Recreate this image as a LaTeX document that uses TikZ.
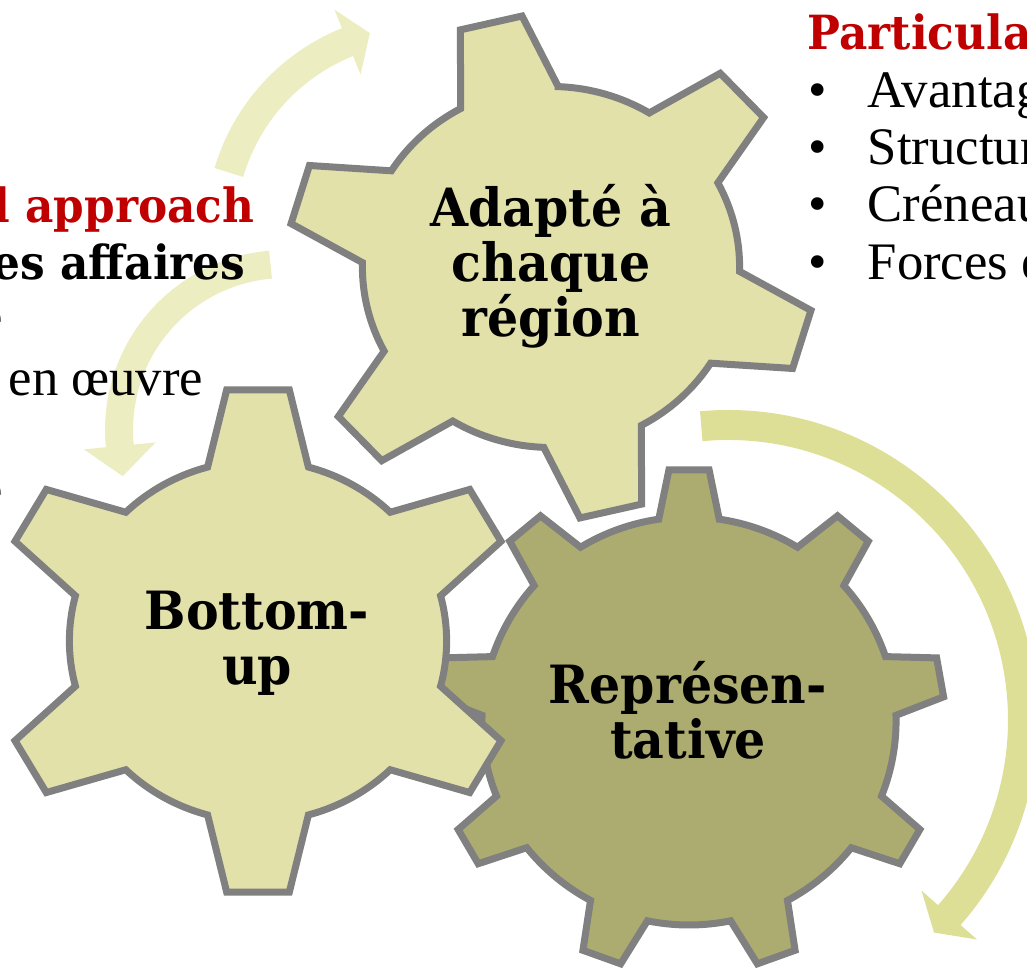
\documentclass[tikz,border=0pt]{standalone}
\usepackage{fontspec}
\setmainfont{Liberation Serif}
\newfontfamily\gearfont[FakeStretch=0.93]{DejaVu Serif}
\usepackage{tikz}

\definecolor{gearlight}{RGB}{226,225,170}
\definecolor{geardark}{RGB}{173,172,112}
\definecolor{gearline}{RGB}{128,128,128}
\definecolor{arrowpale}{RGB}{237,237,194}
\definecolor{arrowlime}{RGB}{222,223,150}
\definecolor{headred}{RGB}{192,0,0}

\tikzset{
  gearbody/.style={draw=gearline, line width=0.7mm, line join=miter},
  bendarrow/.style={line width=3mm},
  gearlabel/.style={font=\gearfont\bfseries\fontsize{15}{15.65}\selectfont, align=center, inner sep=0pt, anchor=base},
  headline/.style={font=\gearfont\bfseries\fontsize{13.4}{14}\selectfont, inner sep=0pt},
  bodyline/.style={font=\fontsize{15}{16}\selectfont, inner sep=0pt}
}

% gear: centre, teeth, phase, root r, tip r, half base, half tip, fill, xscale
\newcommand{\gear}[9]{%
  \begin{scope}[shift={#1}, y=0.1mm, xscale=#9]
    \draw[gearbody, fill=#8] ({#3-#6}:#4)
      \foreach \k in {1,...,#2}{
        -- ({#3+(\k-1)*360/#2-#7}:#5) -- ({#3+(\k-1)*360/#2+#7}:#5)
        -- ({#3+(\k-1)*360/#2+#6}:#4)
        arc[start angle={#3+(\k-1)*360/#2+#6}, end angle={#3+\k*360/#2-#6}, radius=#4]
      } -- cycle;
  \end{scope}}

\begin{document}
\begin{tikzpicture}[x=0.1mm, y=-0.1mm]
  \useasboundingbox (0,0) rectangle (1027,970);

  % circular arrows
  \begin{scope}[shift={(423,230)}, y=0.1mm]
    \draw[bendarrow, arrowpale] (163.5:202.5) arc[start angle=163.5, end angle=111.2, radius=202.5];
    \fill[arrowpale] (111.9:167.5) -- (105.1:203.9) -- (111.9:237.5) -- cycle;
  \end{scope}
  \begin{scope}[shift={(285,430)}, y=0.1mm]
    \draw[bendarrow, arrowpale, line width=2.8mm] (95:166) arc[start angle=95, end angle=186.3, radius=166];
    \fill[arrowpale] (185.5:130) -- (195.9:168.7) -- (185.5:202) -- cycle;
  \end{scope}
  \begin{scope}[shift={(728,720)}, y=0.1mm]
    \draw[bendarrow, arrowlime] (95.2:295) arc[start angle=95.2, end angle=-42, radius=295];
    \fill[arrowlime] (-41.4:258) -- (-45.9:296) -- (-41.4:332) -- cycle;
  \end{scope}

  % gears
  \gear{(689,721)}{9}{90}{204}{252}{8.4}{4.5}{geardark}{1.015}
  \gear{(551,267)}{6}{103.2}{180.5}{252.5}{15.4}{6.9}{gearlight}{1.045}
  \gear{(258,641)}{6}{90}{180.5}{253}{15.5}{6.8}{gearlight}{1.045}

  \node[gearlabel] (adapte) at (551,337) {Adapté à\\chaque\\région};
  \node[gearlabel] (bottomup) at (257,685) {Bottom-\\up};
  \node[gearlabel] (represent) at (688,759) {Représen-\\tative};

  % left text
  \node[headline, text=headred, anchor=base east] (approach) at (255,223) {d approach};
  \node[headline, anchor=base east] (affaires) at (246,280) {es affaires};
  \node[bodyline, anchor=base east] (frag1) at (4,335) {e};
  \node[bodyline, anchor=base east] (oeuvre) at (204,396) {en œuvre};
  \node[bodyline, anchor=base east] (frag2) at (4,508) {e};

  % right text
  \node[headline, text=headred, anchor=base west] (partic) at (807,50) {Particula};
  \foreach \t/\y [count=\n] in {Avantag/108, Structur/165, Créneau/222, Forces e/280}{
    \node[bodyline, anchor=base west] (bul\n) at (808,\y) {\textbullet};
    \node[bodyline, anchor=base west] (item\n) at (867,\y) {\t};
  }
\end{tikzpicture}
\end{document}
